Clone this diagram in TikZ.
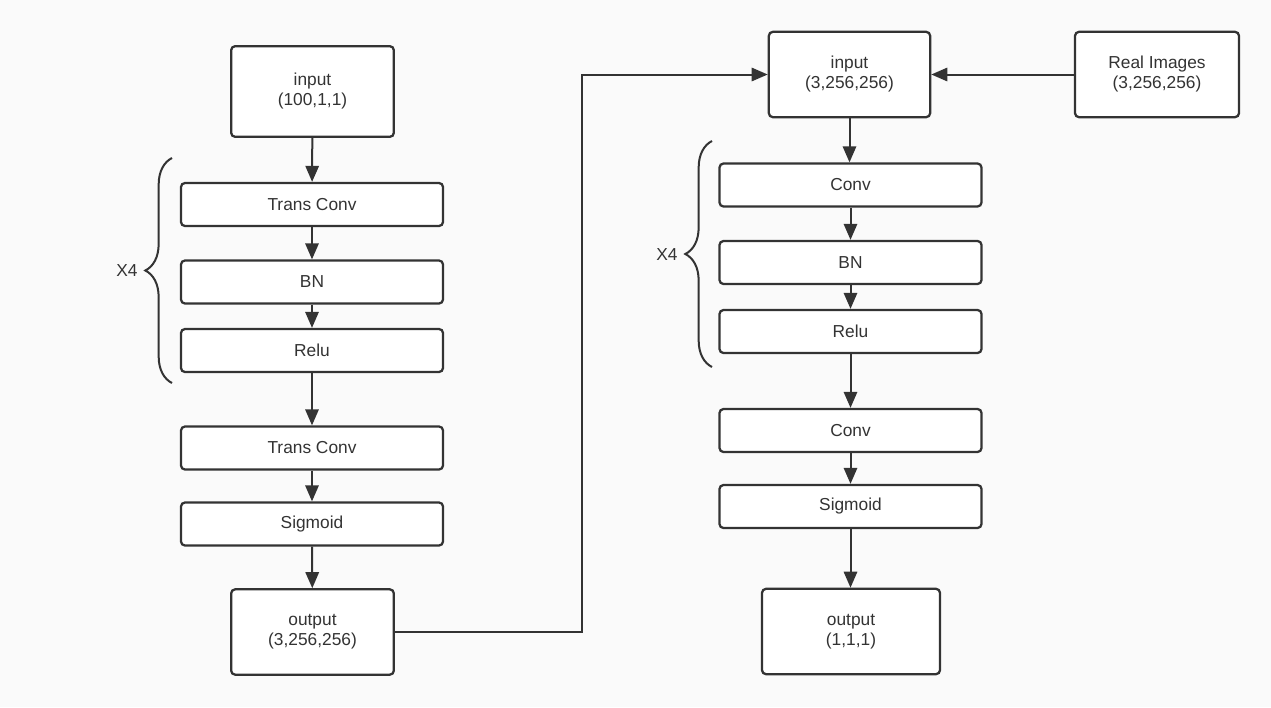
\documentclass[tikz,border=0pt]{standalone}
\usepackage{fontspec}
\setmainfont{Liberation Sans}
\usetikzlibrary{arrows.meta,decorations.pathreplacing}

\definecolor{ink}{RGB}{51,51,51}
\definecolor{paper}{RGB}{250,250,250}

\tikzset{
  box/.style={draw=ink, line width=1.7pt, rounded corners=3pt, fill=white, text=ink,
    align=center, inner sep=0pt, font=\fontsize{13}{15}\selectfont},
  layer/.style={box, minimum width=196.5pt, minimum height=32.25pt},
  io/.style={box, minimum height=64pt},
  arr/.style={draw=ink, line width=1.5pt, -{Triangle[length=12pt,width=10pt]}},
  rep/.style={draw=ink, line width=1.5pt, decorate, decoration={brace, amplitude=20pt}},
  replabel/.style={text=ink, font=\fontsize{13}{15}\selectfont}
}

\begin{document}
\begin{tikzpicture}[x=0.75pt,y=0.75pt,yscale=-1,xscale=1]
\fill[paper] (0,0) rectangle (1271,707);
\useasboundingbox (0,0) rectangle (1271,707);

% Generator
\node[io, minimum width=122pt, minimum height=68pt] (inG) at (312.5,91.5) {input\\(100,1,1)};
\node[layer] (tcA) at (312,204.5) {Trans Conv};
\node[layer] (bnA) at (312,282) {BN};
\node[layer] (reA) at (312,350.5) {Relu};
\node[layer] (tcB) at (312,448) {Trans Conv};
\node[layer] (sgA) at (312,524) {Sigmoid};
\node[io, minimum width=122pt] (outG) at (312.5,632) {output\\(3,256,256)};

\draw[arr] (inG) -- (tcA);
\draw[arr] (tcA) -- (bnA);
\draw[arr] (bnA) -- (reA);
\draw[arr] (reA) -- (tcB);
\draw[arr] (tcB) -- (sgA);
\draw[arr] (sgA) -- (outG);

% Brace
\coordinate (braceAb) at (172,383);
\coordinate (braceAt) at (172,158);
\draw[rep] (braceAb) -- (braceAt);
\node[replabel] (xA) at (127,271) {X4};

% Discriminator
\node[io, minimum width=121pt] (inD) at (849.5,74.5) {input\\(3,256,256)};
\node[io, minimum width=123pt] (real) at (1157,74.5) {Real Images\\(3,256,256)};
\node[layer] (cvA) at (850.5,185) {Conv};
\node[layer] (bnB) at (850.5,262.5) {BN};
\node[layer] (reB) at (850.5,331.5) {Relu};
\node[layer] (cvB) at (850.5,430.5) {Conv};
\node[layer] (sgB) at (850.5,506.5) {Sigmoid};
\node[io, minimum width=133.5pt] (outD) at (851,631.5) {output\\(1,1,1)};

\draw[arr] (real) -- (inD);
\draw[arr] (inD) -- (inD|-cvA.north);
\draw[arr] (cvA) -- (bnB);
\draw[arr] (bnB) -- (reB);
\draw[arr] (reB) -- (cvB);
\draw[arr] (cvB) -- (sgB);
\draw[arr] (sgB) -- (sgB|-outD.north);

% Brace
\coordinate (braceBb) at (712,367);
\coordinate (braceBt) at (712,141);
\draw[rep] (braceBb) -- (braceBt);
\node[replabel] (xB) at (667,255) {X4};

% fake images to discriminator
\coordinate (bend) at (582,632);
\draw[arr] (outG.east) -- (bend) |- (inD.west);

\end{tikzpicture}
\end{document}
